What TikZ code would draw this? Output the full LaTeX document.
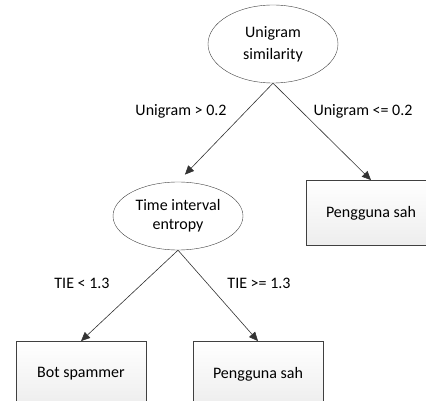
\documentclass[tikz,border=0pt]{standalone}
\usepackage{fontspec}
\setmainfont{Carlito}
\usetikzlibrary{shapes.geometric,arrows.meta}
\begin{document}
\begin{tikzpicture}[x=1pt, y=-1pt,
  every node/.style={font=\fontsize{16}{19}\selectfont},
  testnode/.style={ellipse, draw=black!75, fill=white, minimum width=130pt,
    minimum height=78pt, align=center, inner sep=0pt},
  leafbox/.style={rectangle, draw=black!75, line width=0.8pt, top color=white,
    bottom color=black!7, minimum width=130pt, minimum height=65pt, inner sep=0pt},
  edgelabel/.style={inner sep=1pt},
  branch/.style={->, >={Triangle[length=9pt,width=8pt]}, black!80, line width=0.6pt},
]
\useasboundingbox (0,0) rectangle (426,401);
\clip (0,0) rectangle (426,401);

% Decision nodes
\node[testnode] (U) at (273,44) {Unigram\\[3pt]similarity};
\node[testnode, minimum height=68pt] (T) at (178,216) {Time interval\\entropy};

% Leaves
\node[leafbox] (R) at (371,213) {Pengguna sah};
\node[leafbox] (B) at (81,374) {Bot spammer};
\node[leafbox] (P) at (258,374) {Pengguna sah};

% Branch labels
\node[edgelabel] (l1) at (181,111) {Unigram > 0.2};
\node[edgelabel] (l2) at (363,111) {Unigram <= 0.2};
\node[edgelabel] (l3) at (82,283) {TIE < 1.3};
\node[edgelabel] (l4) at (259,283) {TIE >= 1.3};

% Branches
\draw[branch, shorten >=10pt] (U.south) -- (T.north);
\draw[branch] (U.south) -- (R.north);
\draw[branch] (T.south) -- (B.north);
\draw[branch] (T.south) -- (P.north);

\end{tikzpicture}
\end{document}
